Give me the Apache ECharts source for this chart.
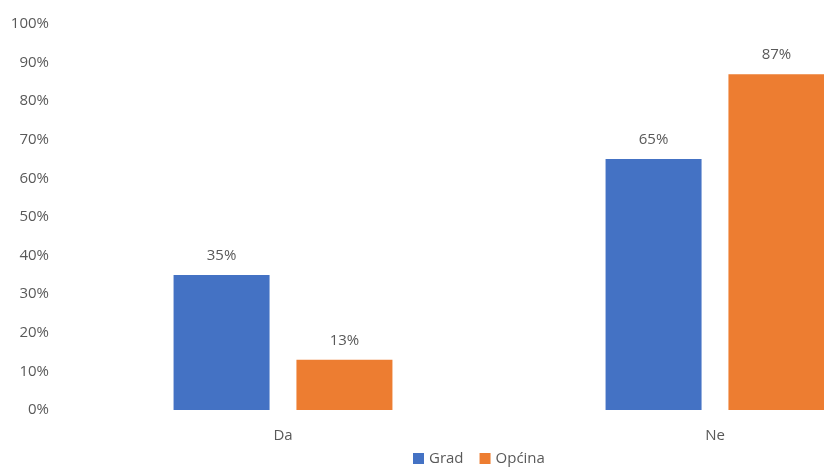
<!DOCTYPE html>
<html>
<head>
<meta charset="utf-8">
<script src="https://cdn.jsdelivr.net/npm/echarts@6/dist/echarts.min.js"></script>
<style>
	html, body { margin: 0; padding: 0; background: #fff; overflow: hidden; }
	/* plot area continues past the right edge, as in the original (cropped) */
	#chartBox { width: 931px; height: 473px; }
</style>
</head>
<body>
<div id="chartBox"></div>
<script>
// kategorije i vrijednosti (%)
var categories = ['Da', 'Ne'];
var gradValues = [35, 65];
var opcinaValues = [13, 87];
var seriesNames = ['Grad', 'Općina'];

var fontName = "'Open Sans', 'Noto Sans', sans-serif";

var myChart = echarts.init(document.getElementById('chartBox'));
myChart.setOption({
	animation: false,
	textStyle: { fontFamily: fontName },
	grid: {
		left: 67,
		right: 0,
		top: 24,
		bottom: 63,
		containLabel: false
	},
	legend: {
		left: 408,
		bottom: 2,
		itemWidth: 11,
		itemHeight: 11,
		itemGap: 16,
		icon: 'rect',
		textStyle: { color: '#595959', fontSize: 15, fontFamily: fontName },
		data: seriesNames
	},
	xAxis: {
		type: 'category',
		data: categories,
		axisLine: { show: false },
		axisTick: { show: false },
		axisLabel: { color: '#595959', fontSize: 15, margin: 18 }
	},
	yAxis: {
		type: 'value',
		min: 0,
		max: 100,
		interval: 10,
		splitLine: { show: false },
		axisLine: { show: false },
		axisTick: { show: false },
		axisLabel: { color: '#595959', fontSize: 15, margin: 18, formatter: '{value}%' }
	},
	series: [
		{
			name: seriesNames[0],
			type: 'bar',
			data: gradValues,
			barWidth: 96,
			barGap: '28%',
			itemStyle: { color: '#4472C4' },
			label: { show: true, position: 'top', distance: 12, color: '#595959', fontSize: 15, formatter: '{c}%' }
		},
		{
			name: seriesNames[1],
			type: 'bar',
			data: opcinaValues,
			barWidth: 96,
			barGap: '28%',
			itemStyle: { color: '#ED7D31' },
			label: { show: true, position: 'top', distance: 12, color: '#595959', fontSize: 15, formatter: '{c}%' }
		}
	]
});
</script>
</body>
</html>
